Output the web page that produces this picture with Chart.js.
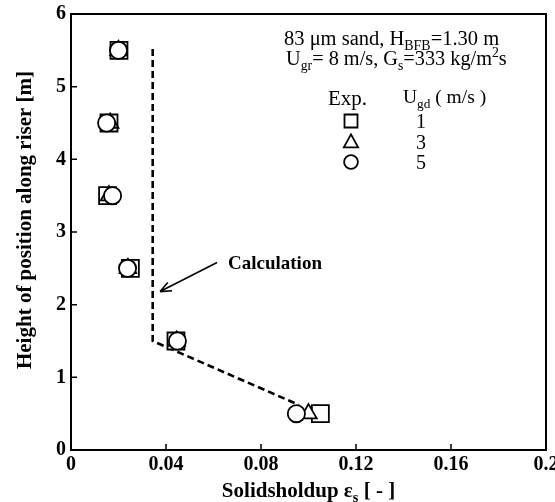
<!DOCTYPE html>
<html>
<head>
<meta charset="utf-8">
<script src="https://cdn.jsdelivr.net/npm/chart.js@4/dist/chart.umd.min.js"></script>
<style>
html,body{margin:0;padding:0;background:#fff;}
#wrap{width:555px;height:502px;position:relative;}
</style>
</head>
<body>
<div id="wrap"><canvas id="c" width="555" height="502"></canvas></div>
<script>
// ---- data ----
const heights = [0.5, 1.5, 2.5, 3.5, 4.5, 5.5];
const holdupUgd1 = [0.105, 0.0442, 0.025, 0.0154, 0.016, 0.0202];   // squares
const holdupUgd3 = [0.100, 0.0445, 0.024, 0.016, 0.0165, 0.020];     // triangles
const holdupUgd5 = [0.0949, 0.0448, 0.0238, 0.0175, 0.015, 0.020];  // circles
const calcHoldup = [0.0344, 0.0344, 0.096];
const calcHeight = [5.52, 1.5, 0.62];
const xTicks = [0, 0.04, 0.08, 0.12, 0.16, 0.2];
const xTickLabels = ['0', '0.04', '0.08', '0.12', '0.16', '0.2'];
const yTicks = [0, 1, 2, 3, 4, 5, 6];
const yTickLabels = ['0', '1', '2', '3', '4', '5', '6'];
const legendLabels = ['1', '3', '5'];
const legendSymbols = ['rect', 'triangle', 'circle'];

const pts = (xs, ys) => xs.map((x, i) => ({x: x, y: ys[i]}));
const SERIF = '"Liberation Serif", "Times New Roman", serif';

function drawRuns(ctx, x, y, runs, size, weight, align) {
  const sub = size * 0.68;
  let total = 0;
  runs.forEach(r => {
    ctx.font = weight + ' ' + (r.sub || r.sup ? sub : size) + 'px ' + SERIF;
    r.w = ctx.measureText(r.t).width;
    total += r.w;
  });
  let cx = align === 'center' ? x - total / 2 : x;
  runs.forEach(r => {
    ctx.font = weight + ' ' + (r.sub || r.sup ? sub : size) + 'px ' + SERIF;
    let dy = r.sub ? size * 0.25 : (r.sup ? -size * 0.38 : 0);
    ctx.fillText(r.t, cx, y + dy);
    cx += r.w;
  });
  return total;
}

function symbol(ctx, type, x, y, s) {
  ctx.beginPath();
  if (type === 'rect') {
    ctx.rect(x - s / 2, y - s / 2, s, s);
  } else if (type === 'triangle') {
    ctx.moveTo(x, y - s * 0.55);
    ctx.lineTo(x + s * 0.55, y + s * 0.45);
    ctx.lineTo(x - s * 0.55, y + s * 0.45);
    ctx.closePath();
  } else {
    ctx.arc(x, y, s * 0.53, 0, Math.PI * 2);
  }
  ctx.fillStyle = '#fff';
  ctx.fill();
  ctx.stroke();
}

const decor = {
  id: 'decor',
  beforeDatasetsDraw(chart) {
    const {ctx, chartArea: a, scales: {x, y}} = chart;
    ctx.save();
    ctx.strokeStyle = '#000';
    // frame
    ctx.lineWidth = 2;
    ctx.strokeRect(a.left, a.top, a.right - a.left, a.bottom - a.top);
    // inward ticks
    ctx.lineWidth = 1.5;
    ctx.beginPath();
    xTicks.forEach(v => {
      const px = x.getPixelForValue(v);
      ctx.moveTo(px, a.bottom); ctx.lineTo(px, a.bottom - 6);
    });
    yTicks.forEach(v => {
      const py = y.getPixelForValue(v);
      ctx.moveTo(a.left, py); ctx.lineTo(a.left + 6, py);
    });
    ctx.stroke();
    // x tick labels (drawn so that the last one may run off the canvas, as in the original)
    ctx.fillStyle = '#000';
    ctx.font = 'bold 20px ' + SERIF;
    ctx.textAlign = 'center';
    ctx.textBaseline = 'alphabetic';
    xTicks.forEach((v, i) => {
      ctx.fillText(xTickLabels[i], x.getPixelForValue(v), a.bottom + 20);
    });
    ctx.restore();
  },
  afterDraw(chart) {
    const {ctx, chartArea: a, scales: {x, y}} = chart;
    ctx.save();
    ctx.fillStyle = '#000';
    ctx.strokeStyle = '#000';
    ctx.textBaseline = 'alphabetic';
    ctx.textAlign = 'left';
    // axis titles
    drawRuns(ctx, (a.left + a.right) / 2, 497,
      [{t: 'Solidsholdup ε'}, {t: 's', sub: true}, {t: ' [ - ]'}], 21, 'bold', 'center');
    ctx.save();
    ctx.translate(31, 220);
    ctx.rotate(-Math.PI / 2);
    ctx.textAlign = 'center';
    ctx.font = 'bold 21px ' + SERIF;
    ctx.fillText('Height of position along riser [m]', 0, 0);
    ctx.restore();
    // annotation text block
    drawRuns(ctx, 284, 45,
      [{t: '83 μm sand, H'}, {t: 'BFB', sub: true}, {t: '=1.30 m'}], 20.5, 'normal', 'left');
    drawRuns(ctx, 286, 65,
      [{t: 'U'}, {t: 'gr', sub: true}, {t: '= 8 m/s, G'}, {t: 's', sub: true},
       {t: '=333 kg/m'}, {t: '2', sup: true}, {t: 's'}], 20.3, 'normal', 'left');
    drawRuns(ctx, 328, 105, [{t: 'Exp.'}], 21, 'normal', 'left');
    drawRuns(ctx, 403, 103, [{t: 'U'}, {t: 'gd', sub: true}, {t: ' ( m/s )'}], 19.5, 'normal', 'left');
    ctx.lineWidth = 1.8;
    legendLabels.forEach((lab, i) => {
      const ry = 121 + i * 20.5;
      symbol(ctx, legendSymbols[i], 351, ry, 13);
      ctx.fillStyle = '#000';
      ctx.font = 'normal 20px ' + SERIF;
      ctx.textAlign = 'center';
      ctx.fillText(lab, 421, ry + 7);
      ctx.textAlign = 'left';
    });
    // "Calculation" label with arrow
    ctx.font = 'bold 19px ' + SERIF;
    ctx.fillText('Calculation', 228, 269);
    const x0 = x.getPixelForValue(0.0615), y0 = y.getPixelForValue(2.58);
    const x1 = x.getPixelForValue(0.0375), y1 = y.getPixelForValue(2.18);
    ctx.lineWidth = 1.6;
    ctx.beginPath();
    ctx.moveTo(x0, y0); ctx.lineTo(x1, y1);
    const ang = Math.atan2(y1 - y0, x1 - x0);
    const L = 12, w = 0.4;
    ctx.moveTo(x1, y1); ctx.lineTo(x1 - L * Math.cos(ang - w), y1 - L * Math.sin(ang - w));
    ctx.moveTo(x1, y1); ctx.lineTo(x1 - L * Math.cos(ang + w), y1 - L * Math.sin(ang + w));
    ctx.stroke();
    ctx.restore();
  }
};

// Chart.js paints dataset 0 last (on top), so circles come first, the line last.
new Chart(document.getElementById('c'), {
  type: 'scatter',
  data: {
    datasets: [
      {
        label: 'Ugd = 5',
        data: pts(holdupUgd5, heights),
        pointStyle: 'circle',
        pointRadius: 8.6,
        pointBorderWidth: 1.8,
        pointBorderColor: '#000',
        pointBackgroundColor: '#fff'
      },
      {
        label: 'Ugd = 3',
        data: pts(holdupUgd3, heights),
        pointStyle: 'triangle',
        pointRadius: 9.5,
        pointBorderWidth: 1.8,
        pointBorderColor: '#000',
        pointBackgroundColor: '#fff'
      },
      {
        label: 'Ugd = 1',
        data: pts(holdupUgd1, heights),
        pointStyle: 'rect',
        pointRadius: 12,
        pointBorderWidth: 1.8,
        pointBorderColor: '#000',
        pointBackgroundColor: '#fff'
      },
      {
        label: 'Calculation',
        data: pts(calcHoldup, calcHeight),
        showLine: true,
        borderColor: '#000',
        borderWidth: 2.6,
        borderDash: [7, 4],
        pointRadius: 0,
        fill: false
      }
    ]
  },
  options: {
    responsive: false,
    animation: false,
    events: [],
    layout: {autoPadding: false, padding: {top: 14, right: 9, left: 0, bottom: 0}},
    plugins: {legend: {display: false}, tooltip: {enabled: false}},
    scales: {
      x: {
        type: 'linear', min: 0, max: 0.2,
        grid: {display: false, drawTicks: false},
        border: {display: false},
        afterBuildTicks: s => { s.ticks = xTicks.map(v => ({value: v})); },
        afterFit: s => { s.height = 52; s.paddingLeft = 0; s.paddingRight = 0; },
        ticks: {display: false}
      },
      y: {
        type: 'linear', min: 0, max: 6,
        grid: {display: false, drawTicks: false},
        border: {display: false},
        afterBuildTicks: s => { s.ticks = yTicks.map(v => ({value: v})); },
        afterFit: s => { s.width = 71; s.paddingTop = 0; s.paddingBottom = 0; },
        ticks: {
          color: '#000', padding: 5, autoSkip: false,
          font: {family: SERIF, size: 20, weight: 'bold'},
          callback: (v, i) => yTickLabels[i]
        }
      }
    }
  },
  plugins: [decor]
});
</script>
</body>
</html>
